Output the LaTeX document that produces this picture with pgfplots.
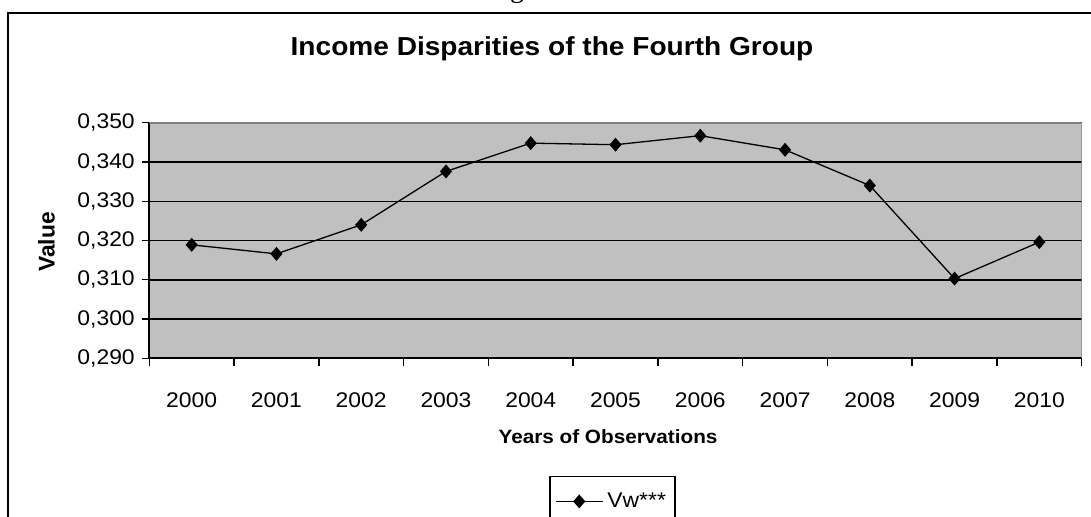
\documentclass[border=0pt]{standalone}
\usepackage{fontspec}
\setmainfont{Liberation Sans}[FakeStretch=1.08]
\newfontfamily\uprightsans{Liberation Sans}
\newfontfamily\serifnote{Liberation Serif}
\usepackage{pgfplots}
\usepackage{pgfplotstable}
\pgfplotsset{compat=1.18}
\definecolor{plotbg}{HTML}{C0C0C0}
\definecolor{plotedge}{HTML}{808080}

% Vw*** by year (0 = 2000, ..., 10 = 2010)
\pgfplotstableread{
year val
0 0.3189
1 0.3166
2 0.3240
3 0.3376
4 0.3448
5 0.3444
6 0.3467
7 0.3431
8 0.3340
9 0.3103
10 0.3196
}\vwdata

\begin{document}
\begin{tikzpicture}
\useasboundingbox (0pt,0pt) rectangle (545.5pt,258pt);
\clip (0pt,0pt) rectangle (545.5pt,258pt);
% caption line above the chart
\node[anchor=base, font=\serifnote\fontsize{14}{16}\selectfont, inner sep=0pt] at (266.85pt,259.4pt) {Figure 4};
% chart area frame
\draw[line width=1pt] (4.15pt,-20pt) rectangle (570pt,251.75pt);
% chart title
\node[anchor=base, font=\bfseries\fontsize{13}{15}\selectfont, inner sep=0pt] at (276pt,230.15pt) {Income Disparities of the Fourth Group};
\begin{axis}[
  at={(74.65pt,78.85pt)}, anchor=south west,
  scale only axis, width=466.2pt, height=117.8pt,
  xmin=-0.5, xmax=10.5, ymin=0.29, ymax=0.35,
  axis lines*=left,
  axis line style={black, line width=0.9pt, -},
  xtick={-0.5,0.5,1.5,2.5,3.5,4.5,5.5,6.5,7.5,8.5,9.5,10.5},
  xticklabels={2000,2001,2002,2003,2004,2005,2006,2007,2008,2009,2010,{}},
  xticklabel style={xshift=21.19pt, yshift=-10pt},
  ytick={0.29,0.3,0.31,0.32,0.33,0.34,0.35},
  yticklabel={\pgfmathprintnumber[fixed,fixed zerofill,precision=3,use comma]{\tick}},
  /pgf/number format/assume math mode=true,
  tick align=outside, major tick length=3.75pt,
  tick style={black, line width=0.7pt},
  ymajorgrids, grid style={black, line width=0.75pt},
  axis background/.style={fill=plotbg},
  tick label style={font=\fontsize{10.6}{12}\selectfont},
  xlabel={Years of Observations}, ylabel={Value},
  xlabel style={at={(axis description cs:0.492,-0.334)}, anchor=center,
    font=\bfseries\fontsize{9.6}{11}\selectfont},
  ylabel style={at={(axis description cs:-0.1103,0.4936)}, anchor=center,
    font=\uprightsans\bfseries\fontsize{11.4}{13}\selectfont},
  legend style={at={(axis description cs:0.4968,-0.4996)}, anchor=north,
    draw=black, line width=0.6pt, font=\fontsize{10.6}{12}\selectfont,
    inner xsep=2.5pt, inner ysep=6pt},
  legend image code/.code={\draw[mark repeat=2,mark phase=2,#1]
    plot coordinates {(0pt,0pt) (11.75pt,0pt) (23.5pt,0pt)};},
]
\addplot[black, line width=0.65pt, mark=diamond*, mark size=3pt,
  mark options={xscale=1.15, solid, fill=black}]
  table[x=year, y=val] {\vwdata};
\addlegendentry{Vw***}
% grey edge of the plot area on top and right
\draw[plotedge, line width=0.8pt] (rel axis cs:0,1) -- (rel axis cs:1,1) -- (rel axis cs:1,0);
\end{axis}
\end{tikzpicture}
\end{document}
